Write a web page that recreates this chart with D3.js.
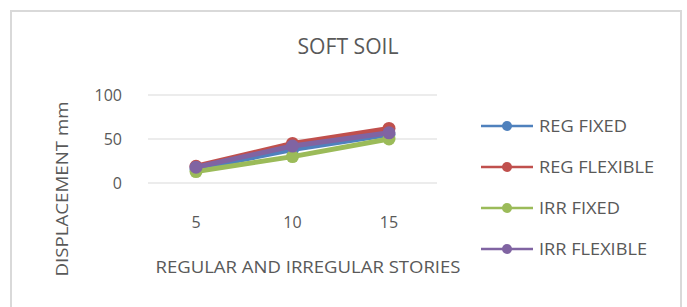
<!DOCTYPE html>
<html>
<head>
<meta charset="utf-8">
<script src="https://cdn.jsdelivr.net/npm/d3@7"></script>
<style>
  body { margin: 0; background: #fff; }
  text { font-family: "Open Sans", sans-serif; fill: #595959; }
</style>
</head>
<body>
<svg width="687" height="307"></svg>
<script>
var stories = [5, 10, 15];
var seriesNames = ["REG FIXED", "REG FLEXIBLE", "IRR FIXED", "IRR FLEXIBLE"];
var regFixed = [16, 38, 55];
var regFlexible = [19, 45, 62];
var irrFixed = [13, 30, 50];
var irrFlexible = [18, 42, 57];
var yTicks = [0, 50, 100];
var colors = ["#4f81bd", "#c0504d", "#9bbb59", "#8064a2"];

var series = [regFixed, regFlexible, irrFixed, irrFlexible];
// widths of the narrow legend labels
var legendWidths = [88, 115, 81, 108];

var svg = d3.select("svg");

// chart frame
svg.append("rect")
    .attr("x", 11).attr("y", 11)
    .attr("width", 670).attr("height", 310)
    .attr("fill", "#fff")
    .attr("stroke", "#d9d9d9")
    .attr("stroke-width", 2);

var x = d3.scalePoint()
    .domain(stories)
    .range([196, 389]);
var y = d3.scaleLinear()
    .domain([0, 100])
    .range([183, 95]);

// gridlines
svg.append("g").selectAll("line")
    .data(yTicks)
    .enter().append("line")
    .attr("x1", 148).attr("x2", 437)
    .attr("y1", function(d) { return y(d); })
    .attr("y2", function(d) { return y(d); })
    .attr("stroke", "#d9d9d9")
    .attr("stroke-width", 1);

// y tick labels
svg.append("g").selectAll("text")
    .data(yTicks)
    .enter().append("text")
    .attr("x", 122)
    .attr("y", function(d) { return y(d); })
    .attr("dy", "0.35em")
    .attr("text-anchor", "end")
    .attr("font-size", 16)
    .text(function(d) { return d; });

// x tick labels
svg.append("g").selectAll("text")
    .data(stories)
    .enter().append("text")
    .attr("x", function(d) { return x(d); })
    .attr("y", 222)
    .attr("dy", "0.35em")
    .attr("text-anchor", "middle")
    .attr("font-size", 16)
    .text(function(d) { return d; });

var line = d3.line()
    .x(function(d, i) { return x(stories[i]); })
    .y(function(d) { return y(d); });

series.forEach(function(s, k) {
    svg.append("path")
        .datum(s)
        .attr("d", line)
        .attr("fill", "none")
        .attr("stroke", colors[k])
        .attr("stroke-width", 5)
        .attr("stroke-linejoin", "round");
    svg.append("g").selectAll("circle")
        .data(s)
        .enter().append("circle")
        .attr("cx", function(d, i) { return x(stories[i]); })
        .attr("cy", function(d) { return y(d); })
        .attr("r", 6.5)
        .attr("fill", colors[k]);
});

// titles
svg.append("text")
    .attr("x", 348).attr("y", 47)
    .attr("dy", "0.35em")
    .attr("text-anchor", "middle")
    .attr("font-size", 21)
    .attr("textLength", 101)
    .attr("lengthAdjust", "spacingAndGlyphs")
    .text("SOFT SOIL");

svg.append("text")
    .attr("x", 308).attr("y", 267)
    .attr("dy", "0.35em")
    .attr("text-anchor", "middle")
    .attr("font-size", 17)
    .attr("textLength", 305)
    .attr("lengthAdjust", "spacingAndGlyphs")
    .text("REGULAR AND IRREGULAR STORIES");

svg.append("text")
    .attr("transform", "translate(62,189) rotate(-90)")
    .attr("dy", "0.35em")
    .attr("text-anchor", "middle")
    .attr("font-size", 17)
    .attr("textLength", 175)
    .attr("lengthAdjust", "spacingAndGlyphs")
    .text("DISPLACEMENT mm");

// legend
var legend = svg.append("g").selectAll("g")
    .data(seriesNames)
    .enter().append("g")
    .attr("transform", function(d, i) { return "translate(0," + (126 + i * 41) + ")"; });

legend.append("line")
    .attr("x1", 481).attr("x2", 533)
    .attr("stroke", function(d, i) { return colors[i]; })
    .attr("stroke-width", 2.5);
legend.append("circle")
    .attr("cx", 507)
    .attr("r", 5)
    .attr("fill", function(d, i) { return colors[i]; });
legend.append("text")
    .attr("x", 539)
    .attr("dy", "0.35em")
    .attr("font-size", 17)
    .attr("textLength", function(d, i) { return legendWidths[i]; })
    .attr("lengthAdjust", "spacingAndGlyphs")
    .text(function(d) { return d; });
</script>
</body>
</html>
